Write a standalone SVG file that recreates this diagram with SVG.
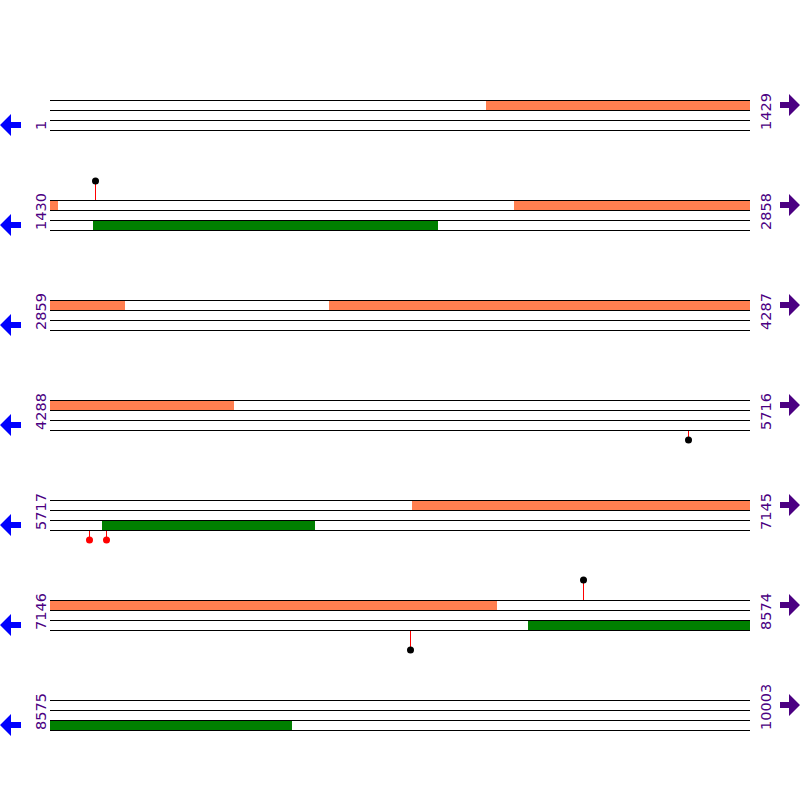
<svg xmlns="http://www.w3.org/2000/svg" width="800" height="800" viewBox="0 0 800 800">
<defs>
<style>
.ln{stroke:#000;stroke-width:1;shape-rendering:crispEdges}
.fw{fill:#FF7F50;shape-rendering:crispEdges}
.rv{fill:#008000;shape-rendering:crispEdges}
.lab{font-family:"DejaVu Sans",sans-serif;font-size:14.5px;fill:#4B0082}
.la{fill:#0000FF}
.ra{fill:#4B0082}
.stem{stroke:#FF0000;stroke-width:1;shape-rendering:crispEdges}
.dk{fill:#000}
.dr{fill:#FF0000}
</style>
<g id="row">
<line class="ln" x1="50" y1="0.5" x2="750" y2="0.5"/>
<line class="ln" x1="50" y1="10.5" x2="750" y2="10.5"/>
<line class="ln" x1="50" y1="20.5" x2="750" y2="20.5"/>
<line class="ln" x1="50" y1="30.5" x2="750" y2="30.5"/>
<polygon class="la" points="0,25 11,14 11,22 21,22 21,28 11,28 11,36"/>
<polygon class="ra" points="800,5 789,-6 789,2 780,2 780,8 789,8 789,16"/>
</g>
</defs>
<rect width="800" height="800" fill="#fff"/>
<g id="row1">
<rect class="fw" x="486" y="100" width="264" height="11"/>
<use href="#row" y="100"/>
<text class="lab" transform="translate(46,130) rotate(-90)">1</text>
<text class="lab" transform="translate(771,130) rotate(-90)">1429</text>
</g>
<g id="row2">
<rect class="fw" x="50" y="200" width="8" height="11"/>
<rect class="fw" x="514" y="200" width="236" height="11"/>
<rect class="rv" x="93" y="220" width="345" height="11"/>
<use href="#row" y="200"/>
<line class="stem" x1="95.5" y1="200" x2="95.5" y2="181"/><circle class="dk" cx="95.5" cy="181" r="3.5"/>
<text class="lab" transform="translate(46,230) rotate(-90)">1430</text>
<text class="lab" transform="translate(771,230) rotate(-90)">2858</text>
</g>
<g id="row3">
<rect class="fw" x="50" y="300" width="75" height="11"/>
<rect class="fw" x="329" y="300" width="421" height="11"/>
<use href="#row" y="300"/>
<text class="lab" transform="translate(46,330) rotate(-90)">2859</text>
<text class="lab" transform="translate(771,330) rotate(-90)">4287</text>
</g>
<g id="row4">
<rect class="fw" x="50" y="400" width="184" height="11"/>
<use href="#row" y="400"/>
<line class="stem" x1="688.5" y1="431" x2="688.5" y2="440"/><circle class="dk" cx="688.5" cy="440" r="3.5"/>
<text class="lab" transform="translate(46,430) rotate(-90)">4288</text>
<text class="lab" transform="translate(771,430) rotate(-90)">5716</text>
</g>
<g id="row5">
<rect class="fw" x="412" y="500" width="338" height="11"/>
<rect class="rv" x="102" y="520" width="213" height="11"/>
<use href="#row" y="500"/>
<line class="stem" x1="89.5" y1="531" x2="89.5" y2="540"/><circle class="dr" cx="89.5" cy="540" r="3.5"/>
<line class="stem" x1="106.5" y1="531" x2="106.5" y2="540"/><circle class="dr" cx="106.5" cy="540" r="3.5"/>
<text class="lab" transform="translate(46,530) rotate(-90)">5717</text>
<text class="lab" transform="translate(771,530) rotate(-90)">7145</text>
</g>
<g id="row6">
<rect class="fw" x="50" y="600" width="447" height="11"/>
<rect class="rv" x="528" y="620" width="222" height="11"/>
<use href="#row" y="600"/>
<line class="stem" x1="583.5" y1="600" x2="583.5" y2="580"/><circle class="dk" cx="583.5" cy="580" r="3.5"/>
<line class="stem" x1="410.5" y1="631" x2="410.5" y2="650"/><circle class="dk" cx="410.5" cy="650" r="3.5"/>
<text class="lab" transform="translate(46,630) rotate(-90)">7146</text>
<text class="lab" transform="translate(771,630) rotate(-90)">8574</text>
</g>
<g id="row7">
<rect class="rv" x="50" y="720" width="242" height="11"/>
<use href="#row" y="700"/>
<text class="lab" transform="translate(46,730) rotate(-90)">8575</text>
<text class="lab" transform="translate(771,730) rotate(-90)">10003</text>
</g>
</svg>
